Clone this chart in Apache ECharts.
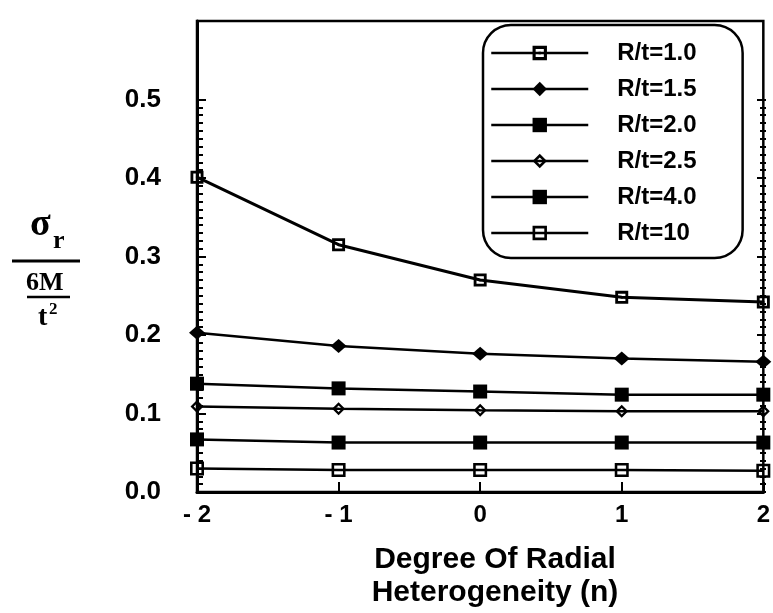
<!DOCTYPE html>
<html>
<head>
<meta charset="utf-8">
<script src="https://cdn.jsdelivr.net/npm/echarts@6/dist/echarts.min.js"></script>
<style>html,body{margin:0;padding:0;background:#fff}#c{width:773px;height:613px}</style>
</head>
<body>
<div id="c"></div>
<script>
var xValues = [-2, -1, 0, 1, 2];
var xTickLabels = {'-2': '- 2', '-1': '- 1', '0': '0', '1': '1', '2': '2'};
var seriesNames = ['R/t=1.0', 'R/t=1.5', 'R/t=2.0', 'R/t=2.5', 'R/t=4.0', 'R/t=10'];
var rt10 = [0.401, 0.315, 0.270, 0.248, 0.242];
var rt15 = [0.203, 0.186, 0.176, 0.170, 0.166];
var rt20 = [0.138, 0.132, 0.128, 0.124, 0.124];
var rt25 = [0.109, 0.106, 0.104, 0.103, 0.103];
var rt40 = [0.067, 0.063, 0.063, 0.063, 0.063];
var rt100 = [0.030, 0.028, 0.028, 0.028, 0.027];
var yTickValues = [0, 0.1, 0.2, 0.3, 0.4, 0.5];

var SANS = '"Liberation Sans", Arial, Helvetica, sans-serif';
var SERIF = '"Liberation Serif", "Times New Roman", serif';

var symSqDot = 'path://M0,0H12V12H0Z M2.6,2.6V9.4H9.4V2.6Z M5,5H7V7H5Z';
var symSqOpen = 'path://M0,0H12V12H0Z M2.2,2.2V9.8H9.8V2.2Z';
var symDiaOpen = 'path://M6,0L12,6L6,12L0,6Z M6,3L3,6L6,9L9,6Z';

var symbols = [symSqDot, 'diamond', 'rect', symDiaOpen, 'rect', symSqOpen];
var sizes = [[13, 13], [16, 14], [14, 14], [13, 13], [14, 14], [14, 14]];
var allData = [rt10, rt15, rt20, rt25, rt40, rt100];

function pairs(arr) { return xValues.map(function (x, i) { return [x, arr[i]]; }); }

var series = seriesNames.map(function (name, k) {
  return {
    name: name, type: 'line', xAxisIndex: 0, yAxisIndex: 0,
    data: pairs(allData[k]),
    symbol: symbols[k], symbolSize: sizes[k], symbolKeepAspect: true,
    showAllSymbol: true, clip: false,
    lineStyle: { color: '#000', width: k === 0 ? 3 : 2.5 },
    itemStyle: { color: '#000', borderWidth: 0 },
    z: 5
  };
});

var G_LEFT = 197, G_RIGHT = 7, G_TOP = 21, G_BOTTOM = 121;
var pxPer01 = (613 - G_BOTTOM - G_TOP) / 6;

var chart = echarts.init(document.getElementById('c'), null, { renderer: 'canvas' });
chart.setOption({
  backgroundColor: '#fff',
  animation: false,
  grid: [
    { left: G_LEFT, right: G_RIGHT, top: G_TOP, bottom: G_BOTTOM, show: true, borderColor: '#000', borderWidth: 2.5, backgroundColor: 'transparent' },
    { left: G_LEFT, right: G_RIGHT, top: G_TOP + pxPer01, bottom: G_BOTTOM, show: false }
  ],
  legend: {
    orient: 'vertical', left: 483, top: 25,
    padding: [16, 46, 13, 7],
    itemWidth: 97, itemHeight: 18, itemGap: 12,
    borderColor: '#000', borderWidth: 2.5, borderRadius: 28,
    backgroundColor: '#fff',
    data: seriesNames,
    textStyle: { fontFamily: SANS, fontSize: 24, fontWeight: 'bold', color: '#000', lineHeight: 22, padding: [0, 0, 0, 24] },
    lineStyle: { width: 2.5 }
  },
  xAxis: [
    {
      type: 'value', gridIndex: 0, min: -2, max: 2, interval: 1,
      axisLine: { show: true, onZero: false, lineStyle: { color: '#000', width: 3 } },
      axisTick: { show: true, inside: true, length: 10, lineStyle: { color: '#000', width: 2 } },
      axisLabel: { margin: 11, fontFamily: SANS, fontSize: 24, fontWeight: 'bold', color: '#000',
        formatter: function (v) { return xTickLabels[String(v)] || ''; } },
      splitLine: { show: false }
    },
    {
      type: 'value', gridIndex: 1, min: -2, max: 2, interval: 1, show: false
    }
  ],
  yAxis: [
    {
      type: 'value', gridIndex: 0, min: 0, max: 0.6, interval: 0.1,
      axisLine: { show: true, onZero: false, lineStyle: { color: '#000', width: 3 } },
      axisTick: { show: false },
      axisLabel: { margin: 36, fontFamily: SANS, fontSize: 26, fontWeight: 'bold', color: '#000',
        formatter: function (v) {
          for (var i = 0; i < yTickValues.length; i++) { if (Math.abs(v - yTickValues[i]) < 1e-9) return yTickValues[i].toFixed(1); }
          return '';
        } },
      splitLine: { show: false }
    },
    {
      type: 'value', gridIndex: 1, position: 'left', min: 0, max: 0.5, interval: 0.1,
      axisLine: { show: false, onZero: false },
      axisTick: { show: true, inside: true, length: 9, lineStyle: { color: '#000', width: 2 } },
      minorTick: { show: true, splitNumber: 10, length: 6, lineStyle: { color: '#000', width: 2 } },
      axisLabel: { show: false }, splitLine: { show: false }
    },
    {
      type: 'value', gridIndex: 1, position: 'right', min: 0, max: 0.5, interval: 0.1,
      axisLine: { show: false, onZero: false },
      axisTick: { show: true, inside: true, length: 9, lineStyle: { color: '#000', width: 2 } },
      minorTick: { show: true, splitNumber: 10, length: 6, lineStyle: { color: '#000', width: 2 } },
      axisLabel: { show: false }, splitLine: { show: false }
    }
  ],
  graphic: [
    { type: 'text', left: 30, top: 206, style: { text: 'σ', font: 'bold 38px ' + SERIF, fill: '#000' } },
    { type: 'text', left: 53, top: 228, style: { text: 'r', font: 'bold 26px ' + SERIF, fill: '#000' } },
    { type: 'line', shape: { x1: 12, y1: 261, x2: 80, y2: 261 }, style: { stroke: '#000', lineWidth: 3 } },
    { type: 'text', left: 26, top: 270, style: { text: '6M', font: 'bold 26px ' + SERIF, fill: '#000' } },
    { type: 'line', shape: { x1: 27, y1: 297, x2: 70, y2: 297 }, style: { stroke: '#000', lineWidth: 2.5 } },
    { type: 'text', left: 38, top: 304, style: { text: 't', font: 'bold 28px ' + SERIF, fill: '#000' } },
    { type: 'text', left: 49, top: 301, style: { text: '2', font: 'bold 17px ' + SERIF, fill: '#000' } },
    { type: 'text', x: 495, y: 560, style: { text: 'Degree Of Radial', font: 'bold 30px ' + SANS, fill: '#000', align: 'center', verticalAlign: 'middle' } },
    { type: 'text', x: 495, y: 593, style: { text: 'Heterogeneity (n)', font: 'bold 30px ' + SANS, fill: '#000', align: 'center', verticalAlign: 'middle' } }
  ],
  series: series
});
</script>
</body>
</html>
